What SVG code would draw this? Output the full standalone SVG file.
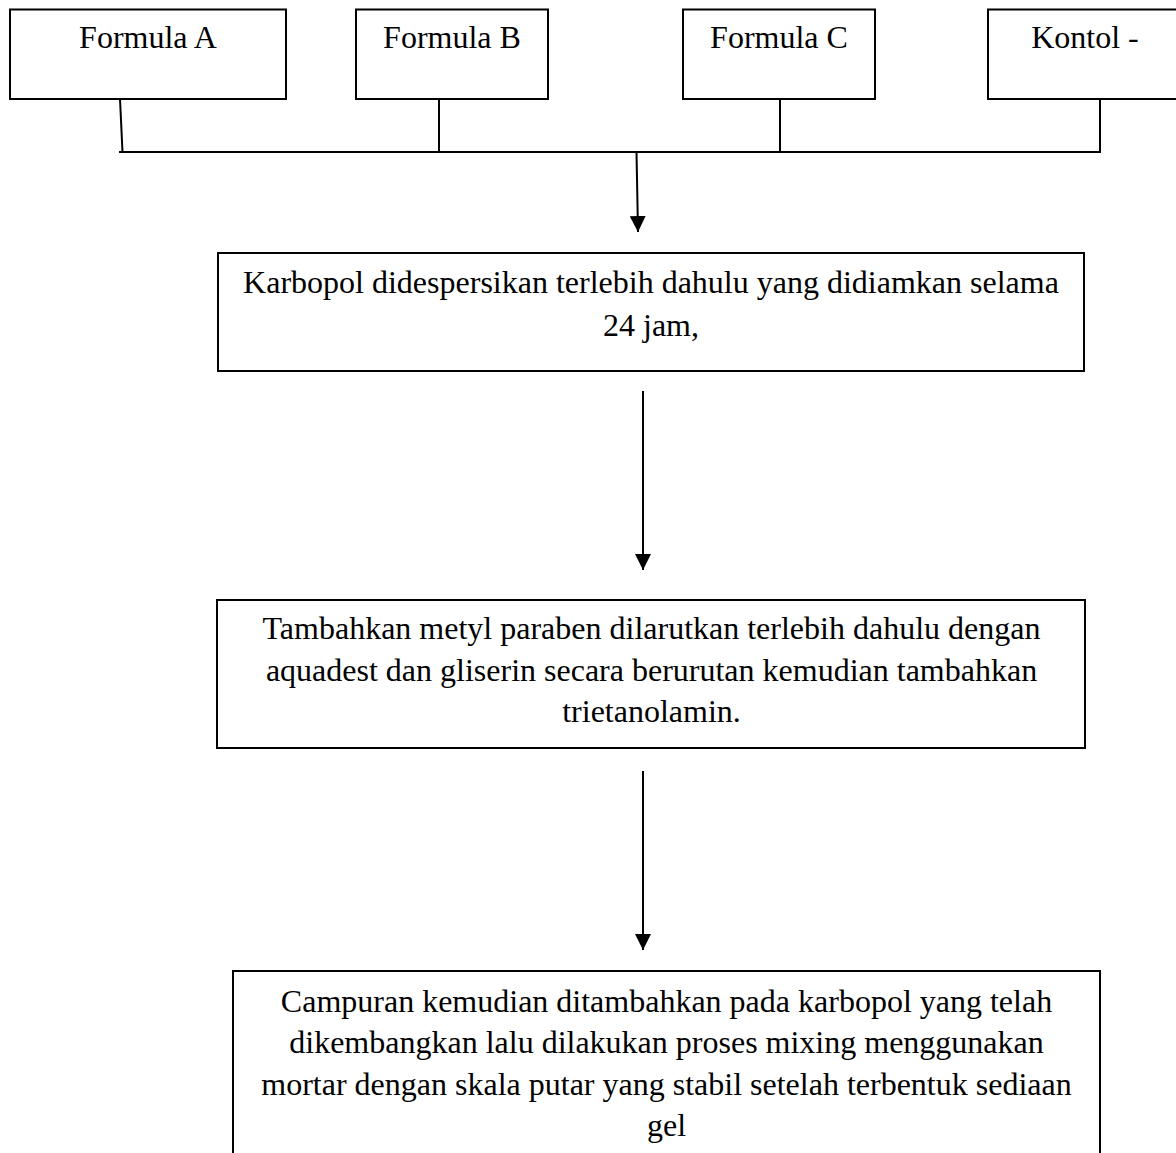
<svg xmlns="http://www.w3.org/2000/svg" width="1176" height="1153" viewBox="0 0 1176 1153">
<defs>
<marker id="arr" markerUnits="userSpaceOnUse" markerWidth="16" markerHeight="16" viewBox="0 0 16 16" refX="16" refY="8" orient="auto">
<path d="M0,0 L16,8 L0,16 Z" fill="#000"/>
</marker>
<style>
.box{fill:#fff;stroke:#000;stroke-width:2}
.t{font-family:"Liberation Serif","Times New Roman",serif;font-size:32px;fill:#000;text-anchor:middle}
.c{fill:none;stroke:#000;stroke-width:2}
</style>
</defs>
<rect width="1176" height="1153" fill="#fff"/>
<g id="connectors">
<path class="c" d="M120,99 L122.5,152"/>
<path class="c" d="M439,99 L439,152"/>
<path class="c" d="M780,99 L780,152"/>
<path class="c" d="M1100,99 L1100,152"/>
<path class="c" d="M119,152 L1101,152"/>
<path class="c" d="M636.5,152 L638,232" marker-end="url(#arr)"/>
<path class="c" d="M643,391 L643,570" marker-end="url(#arr)"/>
<path class="c" d="M643,771 L643,950" marker-end="url(#arr)"/>
</g>
<g id="nodeA">
<rect class="box" x="10" y="9.5" width="276" height="89.5"/>
<text class="t" x="148" y="48">Formula A</text>
</g>
<g id="nodeB">
<rect class="box" x="356" y="9.5" width="192" height="89.5"/>
<text class="t" x="452" y="48">Formula B</text>
</g>
<g id="nodeC">
<rect class="box" x="683" y="9.5" width="192" height="89.5"/>
<text class="t" x="779" y="48">Formula C</text>
</g>
<g id="nodeK">
<rect class="box" x="988" y="9.5" width="194" height="89.5"/>
<text class="t" x="1085" y="48">Kontol -</text>
</g>
<g id="step1">
<rect class="box" x="218" y="253" width="866" height="118"/>
<text class="t" x="651" y="293">Karbopol didespersikan terlebih dahulu yang didiamkan selama</text>
<text class="t" x="651" y="336">24 jam,</text>
</g>
<g id="step2">
<rect class="box" x="217" y="600" width="868" height="148"/>
<text class="t" x="651.5" y="639">Tambahkan metyl paraben dilarutkan terlebih dahulu dengan</text>
<text class="t" x="651.5" y="681">aquadest dan gliserin secara berurutan kemudian tambahkan</text>
<text class="t" x="651.5" y="722">trietanolamin.</text>
</g>
<g id="step3">
<rect class="box" x="233" y="971" width="867" height="200"/>
<text class="t" x="666.5" y="1012">Campuran kemudian ditambahkan pada karbopol yang telah</text>
<text class="t" x="666.5" y="1053">dikembangkan lalu dilakukan proses mixing menggunakan</text>
<text class="t" x="666.5" y="1094.5">mortar dengan skala putar yang stabil setelah terbentuk sediaan</text>
<text class="t" x="666.5" y="1136">gel</text>
</g>
</svg>
